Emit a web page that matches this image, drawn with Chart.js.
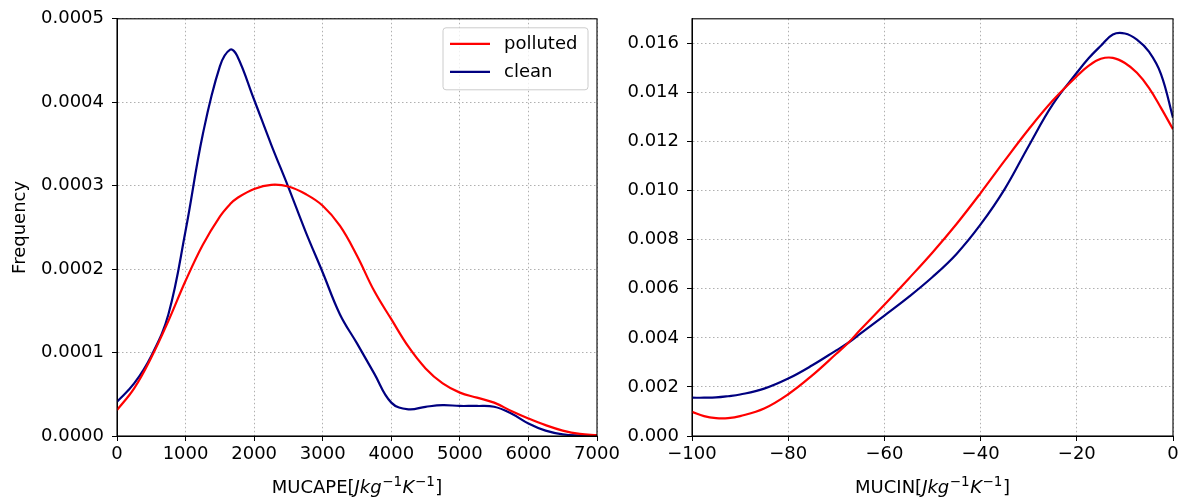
<!DOCTYPE html>
<html>
<head>
<meta charset="utf-8">
<script src="https://cdn.jsdelivr.net/npm/chart.js@4/dist/chart.umd.min.js"></script>
<style>
  html, body { margin: 0; padding: 0; background: #fff; }
  #wrap { position: relative; width: 1184px; height: 502px; overflow: hidden; }
  canvas { position: absolute; top: 0; }
  #capeChart { left: 0; }
  #cinChart { left: 600px; }
</style>
</head>
<body>
<div id="wrap">
  <canvas id="capeChart" width="640" height="502"></canvas>
  <canvas id="cinChart" width="584" height="502"></canvas>
</div>
<script>
"use strict";

// series labels
const seriesNames = ["polluted", "clean"];

// left panel: MUCAPE
const capeX = [0, 250, 500, 750, 1000, 1250, 1500, 1650, 1750, 2000, 2250, 2500, 2750, 3000, 3250,
               3500, 3750, 4000, 4250, 4500, 4750, 5000, 5250, 5500, 5750, 6000, 6250, 6500, 6750, 7000];
const capePolluted = [0.000031, 0.000057, 0.000094, 0.000138, 0.000186, 0.000229, 0.000263, 0.000278,
                      0.000285, 0.000296, 0.000301, 0.000299, 0.000290, 0.000276, 0.000252, 0.000216,
                      0.000174, 0.000140, 0.000107, 0.000081, 0.000063, 0.000052, 0.000046, 0.000040,
                      0.000030, 0.000021, 0.000013, 0.0000065, 0.0000025, 0.000001];
const capeClean = [0.000041, 0.000063, 0.000096, 0.000146, 0.000246, 0.000361, 0.000443, 0.000463,
                   0.000456, 0.000403, 0.000349, 0.000298, 0.000245, 0.000196, 0.000146, 0.000111,
                   0.000075, 0.000040, 0.000032, 0.000035, 0.000037, 0.000036, 0.000036, 0.000035,
                   0.000027, 0.000015, 0.0000064, 0.000002, 0.0000005, 0];
const capeXTicks = [0, 1000, 2000, 3000, 4000, 5000, 6000, 7000];
const capeYTicks = [0, 0.0001, 0.0002, 0.0003, 0.0004, 0.0005];

// right panel: MUCIN
const cinX = [-100, -97.5, -95, -92.5, -90, -85, -80, -75, -70, -67.5, -65, -60, -55, -50, -45,
              -40, -35, -30, -25, -20, -17.5, -15, -12.5, -10, -7.5, -5, -2.5, 0];
const cinPolluted = [0.00099, 0.00081, 0.00073, 0.00073, 0.00081, 0.00112, 0.00170, 0.00247, 0.00335,
                     0.00380, 0.00433, 0.00535, 0.00640, 0.00748, 0.00864, 0.00990, 0.01122, 0.01250,
                     0.01367, 0.01466, 0.01509, 0.01537, 0.01541, 0.01520, 0.01480, 0.01419, 0.01337, 0.01250];
const cinClean = [0.00156, 0.00156, 0.00157, 0.00162, 0.00169, 0.00193, 0.00234, 0.00288, 0.00349,
                  0.00380, 0.00417, 0.00491, 0.00566, 0.00648, 0.00742, 0.00862, 0.01006, 0.01182,
                  0.01351, 0.01480, 0.01540, 0.01590, 0.01636, 0.01640, 0.01615, 0.01566, 0.01475, 0.01297];
const cinXTicks = [-100, -80, -60, -40, -20, 0];
const cinYTicks = [0, 0.002, 0.004, 0.006, 0.008, 0.010, 0.012, 0.014, 0.016];

const colors = ["#ff0000", "#000080"];
const FONT = "DejaVu Sans";

function toPoints(xs, ys) {
    return xs.map((x, i) => ({ x: x, y: ys[i] }));
}

function makeDatasets(xs, series) {
    return series.map((ys, i) => ({
        label: seriesNames[i],
        data: toPoints(xs, ys),
        borderColor: colors[i],
        borderWidth: 2.2,
        pointRadius: 0,
        fill: false,
        tension: 0.4,
        clip: 0
    }));
}

function minusLabel(v) {
    return v < 0 ? "\u2212" + Math.abs(v) : String(v);
}

// full black frame round the plot area, like matplotlib spines
const framePlugin = {
    id: "frame",
    afterDraw(chart) {
        const a = chart.chartArea, ctx = chart.ctx;
        ctx.save();
        ctx.setLineDash([]);
        ctx.strokeStyle = "#000";
        ctx.lineWidth = 1.1;
        ctx.strokeRect(a.left, a.top, a.right - a.left, a.bottom - a.top);
        ctx.restore();
    }
};

// x title with mathtext look, optional y title and legend
const labelPlugin = {
    id: "labels",
    afterDraw(chart, args, opts) {
        const ctx = chart.ctx, a = chart.chartArea;
        ctx.save();
        ctx.setLineDash([]);
        ctx.fillStyle = "#000";
        ctx.textBaseline = "alphabetic";
        const parts = [
            { t: opts.prefix + "[", f: "18px " + FONT, dy: 0, gap: 0 },
            { t: "Jkg", f: "italic 18px " + FONT, dy: 0, gap: 0.5 },
            { t: "\u22121", f: "13.5px " + FONT, dy: -7.5, gap: 0.5 },
            { t: "K", f: "italic 18px " + FONT, dy: 0, gap: 0.5 },
            { t: "\u22121", f: "13.5px " + FONT, dy: -7.5, gap: 0.5 },
            { t: "]", f: "18px " + FONT, dy: 0, gap: 0 }
        ];
        let total = 0;
        parts.forEach(p => { ctx.font = p.f; p.w = ctx.measureText(p.t).width + p.gap; total += p.w; });
        let x = (a.left + a.right) / 2 - total / 2;
        const base = 493;
        ctx.textAlign = "left";
        parts.forEach(p => { ctx.font = p.f; ctx.fillText(p.t, x, base + p.dy); x += p.w; });

        if (opts.yTitle) {
            ctx.save();
            ctx.translate(20, (a.top + a.bottom) / 2);
            ctx.rotate(-Math.PI / 2);
            ctx.font = "18px " + FONT;
            ctx.textAlign = "center";
            ctx.textBaseline = "middle";
            ctx.fillText(opts.yTitle, 0, 0);
            ctx.restore();
        }

        if (opts.legend) {
            const bx = a.right - 154, by = a.top + 9, bw = 145, bh = 62, r = 3;
            ctx.beginPath();
            ctx.moveTo(bx + r, by);
            ctx.arcTo(bx + bw, by, bx + bw, by + bh, r);
            ctx.arcTo(bx + bw, by + bh, bx, by + bh, r);
            ctx.arcTo(bx, by + bh, bx, by, r);
            ctx.arcTo(bx, by, bx + bw, by, r);
            ctx.closePath();
            ctx.fillStyle = "rgba(255,255,255,0.8)";
            ctx.fill();
            ctx.strokeStyle = "#cccccc";
            ctx.lineWidth = 1;
            ctx.stroke();
            chart.data.datasets.forEach((ds, i) => {
                const ly = by + 16 + i * 28;
                ctx.strokeStyle = ds.borderColor;
                ctx.lineWidth = 2.2;
                ctx.beginPath();
                ctx.moveTo(bx + 7, ly);
                ctx.lineTo(bx + 47, ly);
                ctx.stroke();
                ctx.fillStyle = "#000";
                ctx.font = "18px " + FONT;
                ctx.textAlign = "left";
                ctx.textBaseline = "middle";
                ctx.fillText(ds.label, bx + 61, ly + 1);
            });
        }
        ctx.restore();
    }
};

function axisOptions(ticksList, fmt, extra) {
    return Object.assign({
        type: "linear",
        min: ticksList[0],
        max: ticksList[ticksList.length - 1],
        afterBuildTicks: scale => { scale.ticks = ticksList.map(v => ({ value: v })); },
        grid: {
            color: "#b0b0b0",
            lineWidth: 1,
            drawTicks: true,
            tickLength: 5,
            tickColor: "#000",
            tickWidth: 1,
            tickBorderDash: []
        },
        // in v4 the dash of the grid lines lives under border
        border: { display: true, color: "#000", width: 1, dash: [1.5, 2.5] },
        ticks: {
            color: "#000",
            font: { family: FONT, size: 18 },
            autoSkip: false,
            maxRotation: 0,
            callback: v => fmt(v)
        }
    }, extra || {});
}

function makeChart(id, xs, series, xTicks, yTicks, xFmt, yFmt, box, labelOpts) {
    const ctx = document.getElementById(id).getContext("2d");
    const xAxis = axisOptions(xTicks, xFmt, {
        afterFit: s => { s.height = 502 - box.bottom; }
    });
    xAxis.ticks.padding = 3;
    const yAxis = axisOptions(yTicks, yFmt, {
        afterFit: s => { s.width = box.left; }
    });
    yAxis.max = box.yMax;
    yAxis.ticks.padding = box.yPad;
    return new Chart(ctx, {
        type: "line",
        data: { datasets: makeDatasets(xs, series) },
        options: {
            responsive: false,
            animation: false,
            devicePixelRatio: 1,
            layout: { padding: { left: 0, top: box.top, right: box.right, bottom: 0 } },
            scales: { x: xAxis, y: yAxis },
            plugins: {
                legend: { display: false },
                tooltip: { enabled: false },
                labels: labelOpts
            }
        },
        plugins: [framePlugin, labelPlugin]
    });
}

makeChart("capeChart", capeX, [capePolluted, capeClean], capeXTicks, capeYTicks,
    v => String(v), v => v.toFixed(4),
    { left: 117, top: 17, right: 43, bottom: 436, yMax: 0.0005, yPad: 8 },
    { prefix: "MUCAPE", yTitle: "Frequency", legend: true });

makeChart("cinChart", cinX, [cinPolluted, cinClean], cinXTicks, cinYTicks,
    minusLabel, v => v.toFixed(3),
    { left: 92, top: 17, right: 11, bottom: 436, yMax: 0.017, yPad: 8 },
    { prefix: "MUCIN", yTitle: null, legend: false });
</script>
</body>
</html>
